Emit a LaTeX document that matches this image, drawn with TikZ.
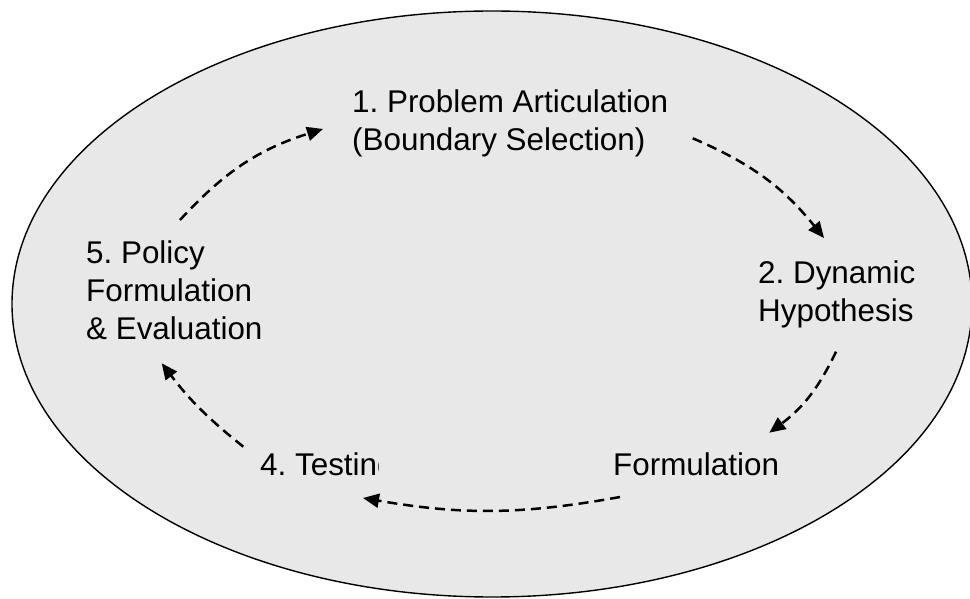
\documentclass[tikz,border=0pt]{standalone}
\usepackage{fontspec}
\setmainfont{Liberation Sans}
\usetikzlibrary{arrows.meta}
\definecolor{cyclefill}{HTML}{E8E8E8}
\frenchspacing
\begin{document}
\begin{tikzpicture}[x=1pt,y=1pt,
  stage/.style={inner sep=0pt, anchor=base west, align=left,
    font=\fontsize{31.4}{38.3}\selectfont},
  flow/.style={-{Triangle[length=16pt,width=14pt]}, line width=2.5pt,
    dash pattern=on 10pt off 6pt}]
\useasboundingbox (0,0) rectangle (970,598);
% background oval
\draw[line width=1.4pt, fill=cyclefill] (492,294) ellipse [x radius=480, y radius=293];

% stages of the modelling cycle (anchored at the baseline of the last line)
\node[stage] (p1) at (352,447) {1. Problem Articulation\\(Boundary Selection)};
\node[stage] (p2) at (758,276.3) {2. Dynamic\\Hypothesis};
\node[stage] (p3) at (613,123) {Formulation};
\begin{scope}
  \clip (0,0) rectangle (378,598);
  \node[stage] (p4) at (260,123) {4. Testing};
\end{scope}
\node[stage] (p5) at (86,258) {5. Policy\\Formulation\\\& Evaluation};

% cycle arrows
\draw[flow] ([shift={(94,120)}]p5.base west) to[bend left=15] ([shift={(-29,22)}]p1.base west);
\draw[flow] ([shift={(340.7,12.7)}]p1.base west) to[bend left=14] ([shift={(66,83.7)}]p2.base west);
\draw[flow] ([shift={(78,-30)}]p2.base west) to[bend left=14] ([shift={(156.3,42.3)}]p3.base west);
\draw[flow] ([shift={(7,-22)}]p3.base west) to[bend left=10] ([shift={(103,-23)}]p4.base west);
\draw[flow] ([shift={(-16.7,28.3)}]p4.base west) to[bend left=7] ([shift={(75.7,-23.3)}]p5.base west);
\end{tikzpicture}
\end{document}
